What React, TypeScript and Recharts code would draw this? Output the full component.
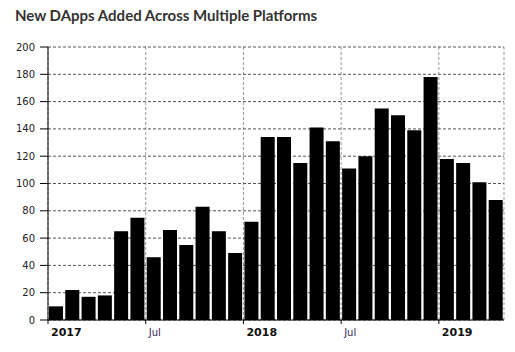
import { BarChart, Bar, XAxis, YAxis, CartesianGrid } from "recharts";

// monthly new dapps, Jan 2017 .. Apr 2019
const values = [
  10, 22, 17, 18, 65, 75, 46, 66, 55, 83, 65, 49,
  72, 134, 134, 115, 141, 131, 111, 120, 155, 150, 139, 178,
  118, 115, 101, 88,
];
const tickMonths = [0, 6, 12, 18, 24];
const tickLabels = ["2017", "Jul", "2018", "Jul", "2019"];
const yTicks = [0, 20, 40, 60, 80, 100, 120, 140, 160, 180, 200];

// bar sits in the middle of its month
const data = values.map((v, i) => ({ m: i + 0.5, v }));

const font = "'DejaVu Sans', Verdana, sans-serif";

function MonthTick(props: any) {
  const { x, y, payload } = props;
  const i = tickMonths.indexOf(payload.value);
  const label = tickLabels[i] ?? "";
  const year = /^\d{4}$/.test(label);
  return (
    <text
      x={x + 3}
      y={y + 12}
      textAnchor="start"
      fontFamily={font}
      fontSize={year ? 11 : 10}
      fontWeight={year ? 700 : 400}
      fill={year ? "#111" : "#3a1f55"}
    >
      {label}
    </text>
  );
}

export default function App() {
  return (
    <div style={{ position: "relative", width: 515, height: 352, background: "#fff" }}>
      <style>{"body{margin:0}"}</style>
      <div
        style={{
          position: "absolute",
          left: 15,
          top: 6,
          fontFamily: "Lato, 'Open Sans', sans-serif",
          fontWeight: 700,
          fontSize: 15,
          color: "#333",
          whiteSpace: "nowrap",
        }}
      >
        New DApps Added Across Multiple Platforms
      </div>
      <div style={{ position: "absolute", left: 0, top: 0 }}>
        <BarChart
          width={515}
          height={352}
          data={data}
          margin={{ top: 47, right: 11, bottom: 2, left: 0 }}
        >
          <CartesianGrid
            horizontal={false}
            stroke="#999"
            strokeDasharray="3 2"
          />
          <CartesianGrid
            vertical={false}
            stroke="#555"
            strokeDasharray="3 2"
          />
          <XAxis
            dataKey="m"
            type="number"
            domain={[0, 28]}
            ticks={tickMonths}
            interval={0}
            height={30}
            tickSize={4}
            tickMargin={0}
            stroke="#000"
            tick={<MonthTick />}
          />
          <YAxis
            domain={[0, 200]}
            ticks={yTicks}
            interval={0}
            width={48}
            tickSize={8}
            tickMargin={5}
            stroke="#000"
            tick={{ fill: "#222", fontSize: 10, fontFamily: font }}
          />
          <Bar dataKey="v" fill="#000" barSize={14} isAnimationActive={false} />
        </BarChart>
      </div>
    </div>
  );
}
